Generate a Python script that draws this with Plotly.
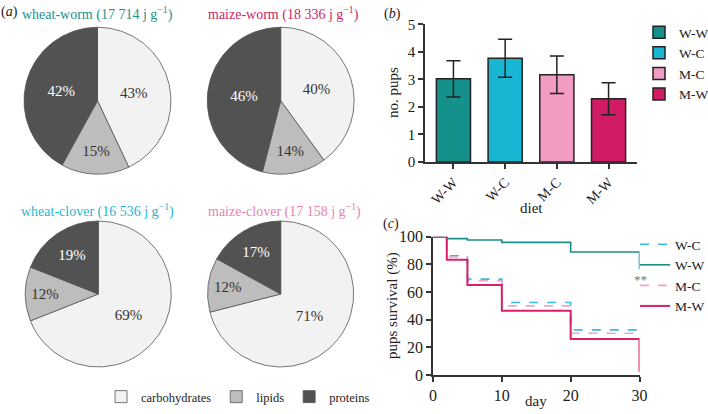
import plotly.graph_objects as go

W, H = 708, 414
FONT = "Liberation Serif, Times New Roman, serif"

# ---------------- data ----------------
nutrients = ["carbohydrates", "lipids", "proteins"]
nutrient_colors = ["#f2f2f2", "#bdbdbd", "#525252"]
nutrient_text_colors = ["#333333", "#333333", "#ffffff"]

pie_names = ["wheat-worm", "maize-worm", "wheat-clover", "maize-clover"]
pie_energy = ["17 714", "18 336", "16 536", "17 158"]
pie_title_colors = ["#1b918b", "#cc1f63", "#27b6cf", "#e982b3"]
pie_values = [
    [43, 15, 42],
    [40, 14, 46],
    [69, 12, 19],
    [71, 12, 17],
]

diets = ["W-W", "W-C", "M-C", "M-W"]
diet_colors = ["#15908a", "#19b6d3", "#f29bc3", "#d11b65"]
pups_mean = [3.02, 3.77, 3.17, 2.30]
pups_err = [0.66, 0.69, 0.68, 0.58]

surv_groups = ["W-W", "W-C", "M-C", "M-W"]
surv_days = {
    "W-W": [0, 2, 5, 10, 20, 30, 30],
    "W-C": [0, 2, 5, 10, 20, 30],
    "M-C": [0, 2, 5, 10, 20, 30],
    "M-W": [0, 2, 5, 10, 20, 30, 30],
}
surv_pct = {
    "W-W": [100, 98.6, 97.6, 95.9, 88.9, 88.9, 76.5],
    "W-C": [100, 86.2, 69.3, 52.4, 32.6, 32.6],
    "M-C": [100, 85.3, 68.1, 50.0, 30.2, 30.2],
    "M-W": [100, 83.3, 65.0, 46.4, 26.1, 26.1, 2.4],
}
surv_colors = {"W-W": "#1b8f8b", "W-C": "#3bbde0", "M-C": "#f0a3c9", "M-W": "#d81f6a"}
surv_dash = {"W-W": "solid", "W-C": "dash", "M-C": "dash", "M-W": "solid"}
surv_width = {"W-W": 1.6, "W-C": 1.6, "M-C": 1.6, "M-W": 2.0}
surv_rank = {"W-C": 1, "W-W": 2, "M-C": 3, "M-W": 4}


def px(x):
    return x / W


def py(y):
    return 1 - y / H


fig = go.Figure()

# ---------------- (a) pies ----------------
pie_geom = [(97.5, 100.7, 73.5), (280.7, 100.7, 73.5), (98.3, 294, 73), (280.7, 294, 73)]
for i, (cx, cy, r) in enumerate(pie_geom):
    fig.add_trace(go.Pie(
        labels=nutrients,
        values=pie_values[i],
        sort=False,
        direction="clockwise",
        rotation=0,
        marker=dict(colors=nutrient_colors, line=dict(color="#555555", width=0.8)),
        texttemplate="%{value}%",
        textposition="inside",
        insidetextorientation="horizontal",
        textfont=dict(family=FONT, size=15, color=nutrient_text_colors),
        hoverinfo="label+value",
        domain=dict(x=[px(cx - r), px(cx + r)], y=[py(cy + r), py(cy - r)]),
        legend="legend",
        showlegend=(i == 0),
    ))

# ---------------- (b) bars ----------------
for d, m, e, c in zip(diets, pups_mean, pups_err, diet_colors):
    fig.add_trace(go.Bar(
        x=[d], y=[m], name=d,
        marker=dict(color=c, line=dict(color="#222222", width=1.5)),
        error_y=dict(type="data", array=[e], color="#222222", thickness=1.5, width=7),
        width=0.66,
        xaxis="x", yaxis="y",
        legend="legend2",
    ))

# ---------------- (c) survival ----------------
for g in surv_groups:
    fig.add_trace(go.Scatter(
        x=surv_days[g], y=surv_pct[g], name=g, mode="lines",
        line=dict(color=surv_colors[g], dash=surv_dash[g], width=surv_width[g], shape="hv"),
        xaxis="x2", yaxis="y2",
        legend="legend3", legendrank=surv_rank[g],
    ))

axis_common = dict(
    showline=True, linecolor="#333333", linewidth=1.5,
    ticks="outside", tickcolor="#333333", ticklen=5, tickwidth=1.5,
    showgrid=False, zeroline=False,
)

ann = []


def add_text(text, x, y, size=14, color="#222222", angle=0, xanchor="center"):
    ann.append(dict(text=text, x=px(x), y=py(y), xref="paper", yref="paper",
                    showarrow=False, xanchor=xanchor, yanchor="middle",
                    textangle=angle, font=dict(family=FONT, size=size, color=color)))


# pie titles
title_pos = [(20, 13), (206, 13), (19, 210), (206, 210)]
for (tx, ty), n, e, c in zip(title_pos, pie_names, pie_energy, pie_title_colors):
    add_text(f"{n} ({e} j g<sup>−1</sup>)", tx, ty, size=14, color=c, xanchor="left")
add_text("(<i>a</i>)", -1, 12, size=14, xanchor="left")
add_text("(<i>b</i>)", 382, 14, size=14, xanchor="left")
add_text("(<i>c</i>)", 381, 224, size=14, xanchor="left")
add_text("no. pups", 393, 93, size=15, angle=-90)
add_text("diet", 531, 208, size=15)
add_text("pups survival (%)", 392, 306, size=15, angle=-90)
add_text("day", 536, 401, size=15)
add_text("**", 640, 279, size=13, color="#777777")

legend_common = dict(bgcolor="rgba(0,0,0,0)", xref="container", yref="container",
                     tracegroupgap=0)

fig.update_layout(
    width=W, height=H,
    margin=dict(l=0, r=0, t=0, b=0, autoexpand=False),
    paper_bgcolor="white", plot_bgcolor="white",
    font=dict(family=FONT, size=14, color="#222222"),
    bargap=0.34,
    xaxis=dict(domain=[px(425), px(637)], anchor="y", tickangle=-45,
               tickfont=dict(size=14), range=[-0.55, 3.55], **axis_common),
    yaxis=dict(domain=[py(162), py(24.3)], anchor="x", range=[0, 5], dtick=1,
               tickfont=dict(size=15), **axis_common),
    xaxis2=dict(domain=[px(433), px(639.5)], anchor="y2", range=[0, 30], dtick=10,
                tickfont=dict(size=16), **axis_common),
    yaxis2=dict(domain=[py(375), py(236.7)], anchor="x2", range=[0, 100], dtick=20,
                tickfont=dict(size=16), **axis_common),
    legend=dict(orientation="h", x=px(238), xanchor="center", y=py(397), yanchor="middle",
                font=dict(size=12.5), itemwidth=30, **legend_common),
    legend2=dict(x=px(639), xanchor="left", y=py(17), yanchor="top",
                 font=dict(size=13.5), **legend_common),
    legend3=dict(x=px(635), xanchor="left", y=py(229), yanchor="top",
                 font=dict(size=13.5), **legend_common),
    annotations=ann,
    showlegend=True,
)

fig.write_html(
    "out.html",
    config={"displayModeBar": False},
    post_script="document.body.style.margin='0';document.body.style.overflow='hidden';",
)
